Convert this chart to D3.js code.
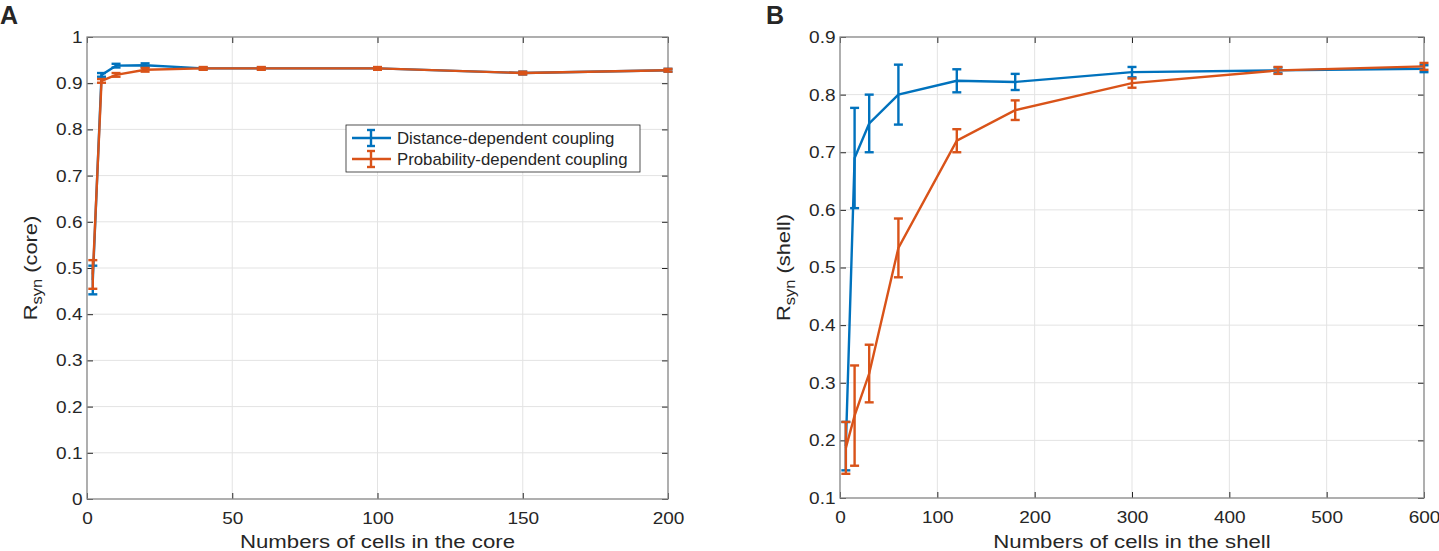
<!DOCTYPE html>
<html>
<head>
<meta charset="utf-8">
<script src="https://cdn.jsdelivr.net/npm/d3@7"></script>
<style>
  body { margin: 0; background: #fff; }
  svg text { font-family: "Liberation Sans", Arial, sans-serif; fill: #262626; }
</style>
</head>
<body>
<div class="canvas"></div>
<script>
// panel A: core
const coreCells = [2, 5, 10, 20, 40, 60, 100, 150, 200];
const coreDist = [0.474, 0.918, 0.938, 0.939, 0.932, 0.932, 0.932, 0.922, 0.928];
const coreDistErr = [0.031, 0.004, 0.004, 0.004, 0.002, 0.002, 0.002, 0.003, 0.003];
const coreProb = [0.486, 0.905, 0.918, 0.929, 0.932, 0.932, 0.932, 0.922, 0.928];
const coreProbErr = [0.031, 0.004, 0.004, 0.004, 0.003, 0.003, 0.003, 0.003, 0.003];

// panel B: shell
const shellCells = [6, 15, 30, 60, 120, 180, 300, 450, 600];
const shellDist = [0.19, 0.69, 0.75, 0.80, 0.824, 0.822, 0.839, 0.842, 0.845];
const shellDistErr = [0.042, 0.087, 0.05, 0.052, 0.02, 0.014, 0.009, 0.005, 0.006];
const shellProb = [0.187, 0.243, 0.316, 0.534, 0.72, 0.773, 0.82, 0.842, 0.849];
const shellProbErr = [0.045, 0.087, 0.05, 0.051, 0.02, 0.017, 0.008, 0.006, 0.006];

const coreTicksX = [0, 50, 100, 150, 200];
const coreTicksY = [0, 0.1, 0.2, 0.3, 0.4, 0.5, 0.6, 0.7, 0.8, 0.9, 1];
const shellTicksX = [0, 100, 200, 300, 400, 500, 600];
const shellTicksY = [0.1, 0.2, 0.3, 0.4, 0.5, 0.6, 0.7, 0.8, 0.9];

const seriesNames = ['Distance-dependent coupling', 'Probability-dependent coupling'];
const colours = ['#0072BD', '#D95319'];

const svg = d3.select('.canvas')
  .append('svg')
  .attr('width', 1439)
  .attr('height', 551);

function drawPanel(opt) {
  const x = d3.scaleLinear().domain(opt.xDomain).range([opt.left, opt.right]);
  const y = d3.scaleLinear().domain(opt.yDomain).range([opt.bottom, opt.top]);
  const g = svg.append('g');

  // grid
  g.selectAll('.gx').data(opt.ticksX).enter().append('line')
    .attr('x1', d => x(d)).attr('x2', d => x(d))
    .attr('y1', opt.top).attr('y2', opt.bottom)
    .attr('stroke', '#e3e3e3').attr('stroke-width', 1);
  g.selectAll('.gy').data(opt.ticksY).enter().append('line')
    .attr('y1', d => y(d)).attr('y2', d => y(d))
    .attr('x1', opt.left).attr('x2', opt.right)
    .attr('stroke', '#e3e3e3').attr('stroke-width', 1);

  // axes (ticks inward on all sides)
  const axStyle = sel => {
    sel.select('.domain').remove();
    sel.selectAll('line').attr('stroke', '#262626');
    sel.selectAll('text').style('font-size', '17px').attr('fill', '#262626')
      .attr('transform', 'scale(1.12,1)');
  };
  g.append('g').attr('transform', `translate(0,${opt.bottom})`)
    .call(d3.axisBottom(x).tickValues(opt.ticksX).tickSize(-6).tickPadding(13).tickFormat(d3.format('')))
    .call(axStyle);
  g.append('g').attr('transform', `translate(0,${opt.top})`)
    .call(d3.axisTop(x).tickValues(opt.ticksX).tickSize(-6).tickFormat(''))
    .call(axStyle);
  g.append('g').attr('transform', `translate(${opt.left},0)`)
    .call(d3.axisLeft(y).tickValues(opt.ticksY).tickSize(-6).tickPadding(4).tickFormat(d3.format('')))
    .call(axStyle);
  g.append('g').attr('transform', `translate(${opt.right},0)`)
    .call(d3.axisRight(y).tickValues(opt.ticksY).tickSize(-6).tickFormat(''))
    .call(axStyle);

  g.append('rect')
    .attr('x', opt.left).attr('y', opt.top)
    .attr('width', opt.right - opt.left).attr('height', opt.bottom - opt.top)
    .attr('fill', 'none').attr('stroke', '#8c8c8c').attr('stroke-width', 1.3);

  // series
  opt.series.forEach((s, k) => {
    const pts = opt.xs.map((d, i) => ({ x: d, v: s.v[i], e: s.e[i] }));
    const line = d3.line().x(d => x(d.x)).y(d => y(d.v));
    g.append('path').datum(pts)
      .attr('d', line)
      .attr('fill', 'none')
      .attr('stroke', colours[k])
      .attr('stroke-width', 2.4);
    const eb = g.selectAll('.eb' + k).data(pts).enter().append('g');
    eb.append('line')
      .attr('x1', d => x(d.x)).attr('x2', d => x(d.x))
      .attr('y1', d => y(d.v - d.e)).attr('y2', d => y(d.v + d.e))
      .attr('stroke', colours[k]).attr('stroke-width', 2.4);
    [-1, 1].forEach(sg => {
      eb.append('line')
        .attr('x1', d => x(d.x) - 4.5).attr('x2', d => x(d.x) + 4.5)
        .attr('y1', d => y(d.v + sg * d.e)).attr('y2', d => y(d.v + sg * d.e))
        .attr('stroke', colours[k]).attr('stroke-width', 2.4);
    });
  });

  // labels
  const cx = (opt.left + opt.right) / 2;
  g.append('text')
    .attr('transform', `translate(${cx},548) scale(1.2,1)`)
    .attr('text-anchor', 'middle')
    .style('font-size', '18.5px')
    .text(opt.xLabel);
  const yl = g.append('text')
    .attr('transform', `translate(${opt.left - 50},${(opt.top + opt.bottom) / 2}) rotate(-90) scale(1.18,1)`)
    .attr('text-anchor', 'middle')
    .style('font-size', '18.5px');
  yl.append('tspan').text('R');
  yl.append('tspan').attr('dy', 5).style('font-size', '14px').text('syn');
  yl.append('tspan').attr('dy', -5).text(' (' + opt.yName + ')');

  svg.append('text')
    .attr('x', opt.letterX).attr('y', 24)
    .style('font-size', '25px').style('font-weight', 'bold')
    .attr('fill', '#000')
    .text(opt.letter);

  return { x, y, g };
}

const pA = drawPanel({
  left: 87, right: 668, top: 37, bottom: 499,
  xDomain: [0, 200], yDomain: [0, 1],
  ticksX: coreTicksX, ticksY: coreTicksY,
  xs: coreCells,
  series: [{ v: coreDist, e: coreDistErr }, { v: coreProb, e: coreProbErr }],
  xLabel: 'Numbers of cells in the core', yName: 'core',
  letter: 'A', letterX: 0
});

drawPanel({
  left: 840, right: 1424, top: 37, bottom: 498,
  xDomain: [0, 600], yDomain: [0.1, 0.9],
  ticksX: shellTicksX, ticksY: shellTicksY,
  xs: shellCells,
  series: [{ v: shellDist, e: shellDistErr }, { v: shellProb, e: shellProbErr }],
  xLabel: 'Numbers of cells in the shell', yName: 'shell',
  letter: 'B', letterX: 766
});

// legend in panel A
const legend = pA.g.append('g').attr('transform', 'translate(346,125)');
legend.append('rect')
  .attr('width', 294).attr('height', 47)
  .attr('fill', '#fff').attr('stroke', '#262626').attr('stroke-width', 0.8);
const items = legend.selectAll('.legend').data(seriesNames).enter().append('g')
  .attr('transform', (d, i) => `translate(0,${13 + i * 21})`);
items.append('line')
  .attr('x1', 6).attr('x2', 45).attr('y1', 0).attr('y2', 0)
  .attr('stroke', (d, i) => colours[i]).attr('stroke-width', 2.4);
items.append('line')
  .attr('x1', 25).attr('x2', 25).attr('y1', -8).attr('y2', 8)
  .attr('stroke', (d, i) => colours[i]).attr('stroke-width', 2.4);
[-8, 8].forEach(dy => {
  items.append('line')
    .attr('x1', 21).attr('x2', 29).attr('y1', dy).attr('y2', dy)
    .attr('stroke', (d, i) => colours[i]).attr('stroke-width', 2.4);
});
items.append('text')
  .attr('transform', 'translate(51,5.5) scale(1.05,1)')
  .style('font-size', '16px')
  .text(d => d);
</script>
</body>
</html>
